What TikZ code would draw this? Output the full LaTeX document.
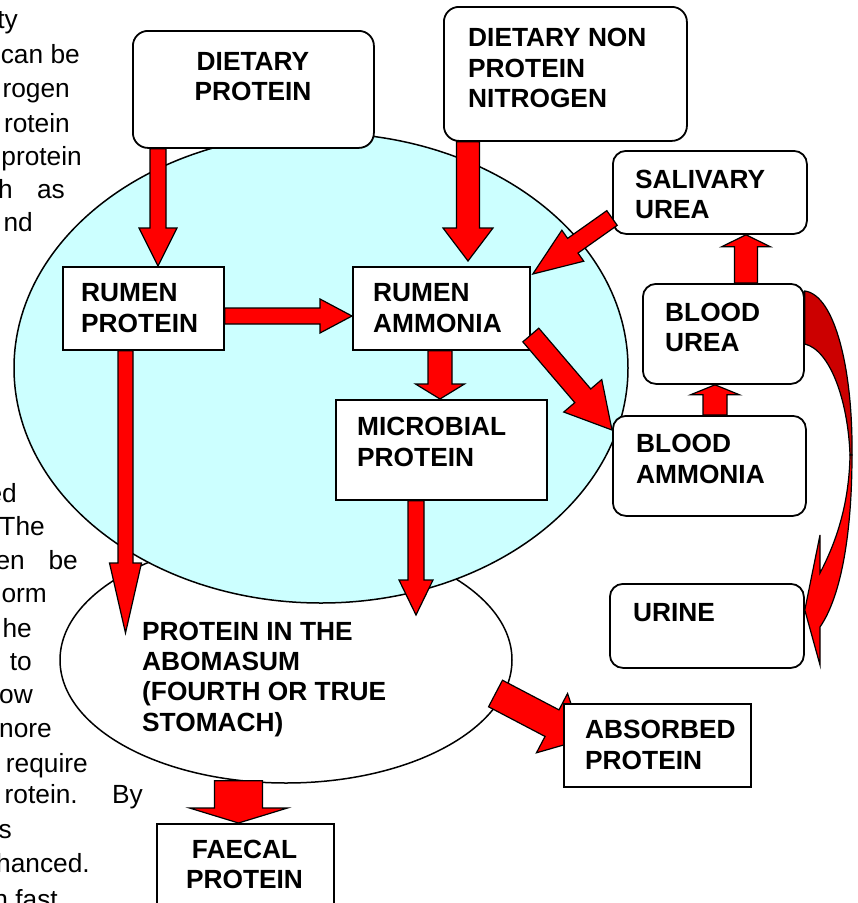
\documentclass[tikz,border=0pt]{standalone}
\usepackage{fontspec}
\setmainfont{Liberation Sans}
\usetikzlibrary{calc,shapes.geometric}
\pgfdeclarelayer{bg}
\pgfdeclarelayer{mid}
\pgfdeclarelayer{front}
\pgfsetlayers{bg,mid,main,front}
\definecolor{rumencyan}{HTML}{CCFFFF}
\definecolor{arrred}{HTML}{FF0000}
\definecolor{darkarr}{HTML}{CC0000}
\newcommand\blkarrow[6][]{%
  \coordinate (bakc) at ($(#3)!#6!(#2)$);
  \draw[blkarr,#1] ($(#2)!#4!90:(#3)$) -- ($(bakc)!#4!90:(#3)$) -- ($(bakc)!#5!90:(#3)$) -- (#3) -- ($(bakc)!#5!-90:(#3)$) -- ($(bakc)!#4!-90:(#3)$) -- ($(#2)!#4!-90:(#3)$) -- cycle;}
\begin{document}
\begin{tikzpicture}[x=1pt,y=-1pt,
  lbl/.style={font=\bfseries\fontsize{26.3}{30}\selectfont, inner sep=0pt, anchor=base west},
  lblc/.style={lbl, anchor=base},
  frag/.style={font=\fontsize{26.3}{30}\selectfont, inner sep=0pt, anchor=base east},
  rbox/.style={draw, line width=1.8pt, fill=white, rounded corners=13pt, anchor=north west},
  sbox/.style={draw, line width=1.8pt, fill=white, anchor=north west},
  blkarr/.style={fill=arrred, draw=black, line width=1.2pt, line join=miter},
  ovalbox/.style={ellipse, draw, line width=1.5pt, inner sep=0pt}]
\useasboundingbox (0,0) rectangle (858,903);
\begin{pgfonlayer}{bg}
\fill[white] (0,0) rectangle (858,903);
% background text fragments
\node[frag] (f1) at (18,28) {ty};
\node[frag] (f2) at (80,63) {can be};
\node[frag] (f3) at (70,97) {rogen};
\node[frag] (f4) at (70,132) {rotein};
\node[frag] (f5) at (82,165) {protein};
\node[frag] (f6a) at (13,198) {h};
\node[frag] (f6b) at (65,198) {as};
\node[frag] (f7) at (33,231) {nd};
\node[frag] (f8) at (17,502) {ed};
\node[frag] (f9) at (45,535) {The};
\node[frag] (f10a) at (25,569) {en};
\node[frag] (f10b) at (78,569) {be};
\node[frag] (f11) at (47,602) {orm};
\node[frag] (f12) at (32,637) {he};
\node[frag] (f13) at (32,670) {to};
\node[frag] (f14) at (33,703) {ow};
\node[frag] (f15) at (52,737) {nore};
\node[frag] (f16) at (88,772) {require};
\node[frag] (f17a) at (78,803) {rotein.};
\node[frag] (f17b) at (143,803) {By};
\node[frag] (f18) at (12,838) {s};
\node[frag] (f19) at (90,872) {hanced.};
\node[frag] (f20) at (58,908) {n fast};
% ellipses
\node[ovalbox, fill=white, minimum width=452pt, minimum height=246pt] (ab) at (286,660) {};
\node[ovalbox, fill=rumencyan, minimum width=614pt, minimum height=470pt] (rumen) at (321,368) {};
\end{pgfonlayer}
% boxes
\node[rbox, rounded corners=15pt, minimum width=241pt, minimum height=117pt] (dp) at (132,30) {};
\node[rbox, rounded corners=15pt, minimum width=243pt, minimum height=134pt] (dn) at (443,6) {};
\node[rbox, minimum width=194pt, minimum height=83pt] (su) at (612,150) {};
\node[rbox, minimum width=161pt, minimum height=100pt] (bu) at (642,283) {};
\node[rbox, minimum width=193pt, minimum height=100pt] (ba) at (612,415) {};
\node[rbox, minimum width=194pt, minimum height=84pt] (ur) at (609,583) {};
\node[sbox, minimum width=161pt, minimum height=83pt] (rp) at (62,266) {};
\node[sbox, minimum width=177pt, minimum height=83pt] (ra) at (352,266) {};
\node[sbox, minimum width=211pt, minimum height=100pt] (mp) at (335,399) {};
\node[sbox, minimum width=187pt, minimum height=83pt] (ap) at (563,703) {};
\node[sbox, minimum width=177pt, minimum height=100pt] (fp) at (156,823) {};
% texts
\node[lblc] (dpt1) at (253,70) {DIETARY};
\node[lblc] (dpt2) at (253,100) {PROTEIN};
\node[lbl] (dnt1) at (468,46) {DIETARY NON};
\node[lbl] (dnt2) at (468,77) {PROTEIN};
\node[lbl] (dnt3) at (468,107) {NITROGEN};
\node[lbl] (sut1) at (635,188) {SALIVARY};
\node[lbl] (sut2) at (635,218) {UREA};
\node[lbl] (but1) at (665,321) {BLOOD};
\node[lbl] (but2) at (665,351) {UREA};
\node[lbl] (bat1) at (636,452) {BLOOD};
\node[lbl] (bat2) at (636,483) {AMMONIA};
\node[lbl] (urt1) at (633,621) {URINE};
\node[lbl] (rpt1) at (81,301) {RUMEN};
\node[lbl] (rpt2) at (81,332) {PROTEIN};
\node[lbl] (rat1) at (373,301) {RUMEN};
\node[lbl] (rat2) at (373,332) {AMMONIA};
\node[lbl] (mpt1) at (357,435) {MICROBIAL};
\node[lbl] (mpt2) at (357,466) {PROTEIN};
\node[lbl] (apt1) at (585,738) {ABSORBED};
\node[lbl] (apt2) at (585,769) {PROTEIN};
\node[lblc] (fpt1) at (244.5,858) {FAECAL};
\node[lblc] (fpt2) at (244.5,888) {PROTEIN};
\node[lbl] (abt1) at (142,640) {PROTEIN IN THE};
\node[lbl] (abt2) at (142,670) {ABOMASUM};
\node[lbl] (abt3) at (142,700) {(FOURTH OR TRUE};
\node[lbl] (abt4) at (142,731) {STOMACH)};
% arrow end points
\coordinate (a1s) at (dp.south -| 158,0);
\coordinate (a1e) at (rp.north -| 158,0);
\coordinate (a2s) at (dn.south -| 468,0);
\coordinate (a2e) at ($(ra.north -| 468,0)+(0,-5)$);
\coordinate (a3s) at (su.west |- 0,218);
\coordinate (a3e) at ($(ra.north east)+(2,8)$);
\coordinate (a4s) at (rp.east |- 0,316);
\coordinate (a4e) at (ra.west |- 0,316);
\coordinate (a5s) at (ra.south -| 440,0);
\coordinate (a5e) at (mp.north -| 440,0);
\coordinate (a6s) at (ra.east |- 0,335);
\coordinate (a6e) at (ba.west |- 0,430);
\coordinate (a7s) at (mp.south -| 416,0);
\coordinate (a7e) at ($(ab.center)+(130,-45)$);
\coordinate (a8s) at (rp.south -| 125.5,0);
\coordinate (a8e) at ($(ab.center)+(-160.5,-27)$);
\coordinate (a9s) at ($(ab.center)+(209.5,33.5)$);
\coordinate (a9e) at ($(ap.west)+(20,-6)$);
\coordinate (a10s) at ($(ab.south)+(-47.5,-3)$);
\coordinate (a10e) at (fp.north -| 238.5,0);
\coordinate (a11s) at (ba.north -| 715,0);
\coordinate (a11e) at (bu.south -| 715,0);
\coordinate (a12s) at (bu.north -| 746,0);
\coordinate (a12e) at (su.south -| 746,0);
\coordinate (cu1) at (bu.east |- 0,291);
\coordinate (cu2) at (bu.east |- 0,344);
\coordinate (cut) at (ur.east |- 0,610);
\begin{pgfonlayer}{mid}
\blkarrow{a9s}{a9e}{15pt}{33.5pt}{35pt}
\end{pgfonlayer}
\begin{pgfonlayer}{front}
\blkarrow{a1s}{a1e}{8pt}{19pt}{38pt}
\blkarrow{a2s}{a2e}{11.5pt}{25pt}{33pt}
\blkarrow{a3s}{a3e}{9pt}{19pt}{49pt}
\blkarrow{a4s}{a4e}{8pt}{17pt}{32pt}
\blkarrow{a5s}{a5e}{12pt}{24.5pt}{15pt}
\blkarrow{a6s}{a6e}{10.5pt}{25pt}{45pt}
\blkarrow{a7s}{a7e}{8pt}{17pt}{35pt}
\blkarrow{a8s}{a8e}{7.5pt}{16pt}{70pt}
\blkarrow{a10s}{a10e}{24pt}{49pt}{15pt}
\blkarrow{a11s}{a11e}{12pt}{24.5pt}{10pt}
\blkarrow{a12s}{a12e}{11.5pt}{24.5pt}{12pt}
% curved arrow blood urea -> urine
\draw[fill=darkarr, line width=1.2pt] (cu1) .. controls (835,295) and (853,370) .. (852,455) -- (850,455) .. controls (848,400) and (830,350) .. (cu2) -- cycle;
\draw[fill=arrred, line width=1.2pt, line join=miter] (852,455) .. controls (852,530) and (842,595) .. (820,627) -- (820,665) -- (cut) -- (820,535) -- (820,573) .. controls (833,548) and (849,510) .. (850,455) -- cycle;
\end{pgfonlayer}
\end{tikzpicture}
\end{document}
